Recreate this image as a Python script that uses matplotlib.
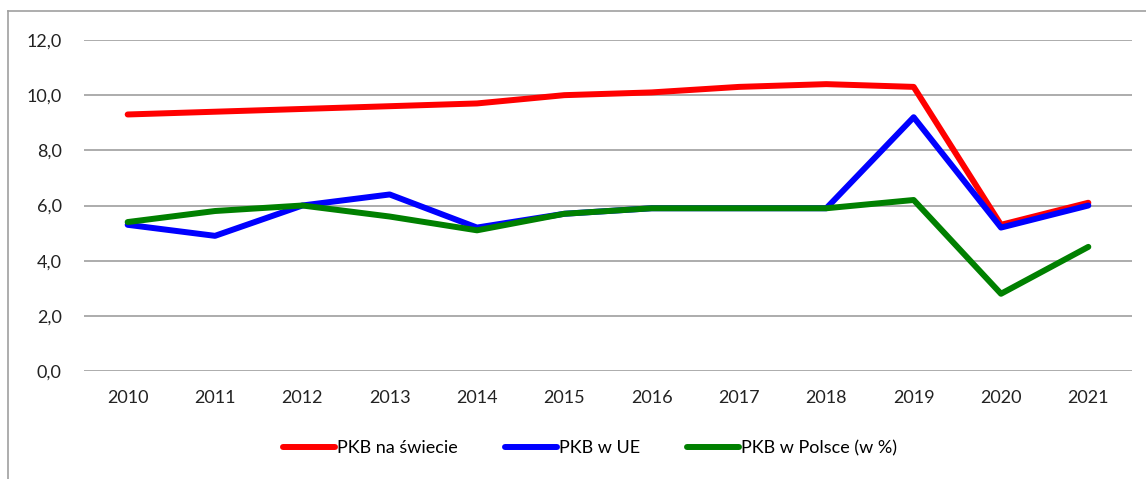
import matplotlib
matplotlib.use("Agg")
import matplotlib.pyplot as plt
from matplotlib.lines import Line2D

# Dane
lata = ["2010", "2011", "2012", "2013", "2014", "2015", "2016", "2017", "2018", "2019", "2020", "2021"]
pkb_swiat = [9.3, 9.4, 9.5, 9.6, 9.7, 10.0, 10.1, 10.3, 10.4, 10.3, 5.3, 6.1]
pkb_ue = [5.3, 4.9, 6.0, 6.4, 5.2, 5.7, 5.9, 5.9, 5.9, 9.2, 5.2, 6.0]
pkb_polska = [5.4, 5.8, 6.0, 5.6, 5.1, 5.7, 5.9, 5.9, 5.9, 6.2, 2.8, 4.5]
y_ticks = [0, 2, 4, 6, 8, 10, 12]

plt.rcParams["font.family"] = ["Lato", "DejaVu Sans"]

fig = plt.figure(figsize=(11.46, 4.79), dpi=100)
ax = fig.add_axes([84 / 1146, 1 - 371 / 479, 1048 / 1146, 331 / 479])

x = range(len(lata))
ax.plot(x, pkb_swiat, color="#FF0000", lw=4.3, label="PKB na świecie", solid_capstyle="round", zorder=3)
ax.plot(x, pkb_ue, color="#0000FF", lw=4.3, label="PKB w UE", solid_capstyle="round", zorder=4)
ax.plot(x, pkb_polska, color="#008000", lw=4.3, label="PKB w Polsce (w %)", solid_capstyle="round", zorder=5)

ax.set_xlim(-0.5, len(lata) - 0.5)
ax.set_ylim(0, 12)
ax.set_yticks(y_ticks)
ax.set_yticklabels([f"{v:.1f}".replace(".", ",") for v in y_ticks])
ax.set_xticks(list(x))
ax.set_xticklabels(lata)
ax.tick_params(length=0, labelsize=13, colors="#222222", pad=14)
ax.tick_params(axis="y", pad=16)
ax.grid(axis="y", color="#A6A6A6", lw=1.3, zorder=0)
for s in ax.spines.values():
    s.set_visible(False)

handles = [Line2D([0], [0], color=c, lw=4.3, solid_capstyle="round")
           for c in ["#FF0000", "#0000FF", "#008000"]]
fig.legend(handles, ["PKB na świecie", "PKB w UE", "PKB w Polsce (w %)"],
           loc="center", bbox_to_anchor=(590 / 1146, 1 - 448 / 479), ncol=3, frameon=False,
           fontsize=13, handlelength=2.9, handletextpad=0.1, columnspacing=2.6)

# ramka wykresu (przycięta)
fig.add_artist(Line2D([8 / 1146, 8 / 1146], [0, 1 - 11 / 479], color="#A0A0A0", lw=1.2))
fig.add_artist(Line2D([8 / 1146, 1], [1 - 11 / 479, 1 - 11 / 479], color="#A0A0A0", lw=1.2))

fig.savefig("out.png", dpi=100)
